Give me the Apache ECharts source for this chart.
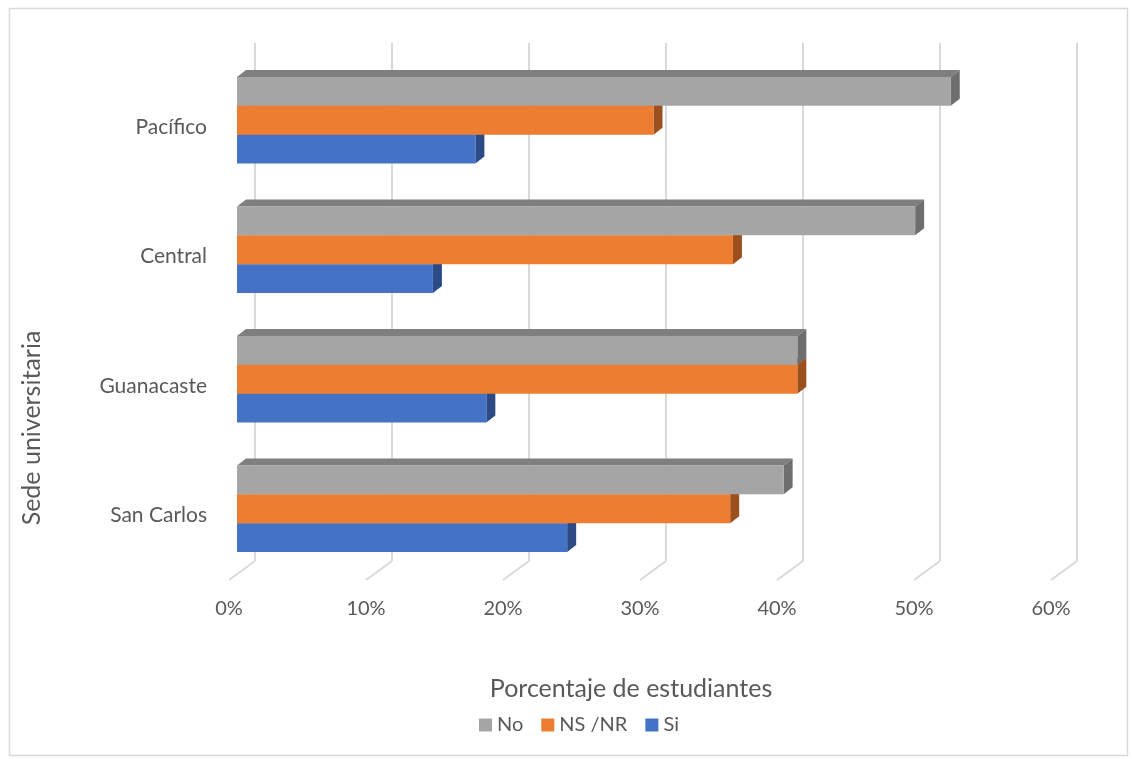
<!DOCTYPE html>
<html>
<head>
<meta charset="utf-8">
<script src="https://cdn.jsdelivr.net/npm/echarts@6/dist/echarts.min.js"></script>
<style>html,body{margin:0;padding:0;background:#fff}#main{width:1132px;height:759px}</style>
</head>
<body>
<div id="main"></div>
<script>
var categories = ['San Carlos', 'Guanacaste', 'Central', 'Pacífico'];
var seriesNames = ['No', 'NS /NR', 'Si'];
var noValues = [39.9, 40.9, 49.5, 52.1];
var nsnrValues = [36.0, 40.9, 36.2, 30.4];
var siValues = [24.1, 18.2, 14.3, 17.4];
var xTicks = [0, 10, 20, 30, 40, 50, 60];

var FONT = 'Lato, "Open Sans", sans-serif';
var TXT = '#595959';

function toData(vals) {
  return vals.map(function (v, i) { return [v, i]; });
}

function barRender(slot, front, top, side) {
  return function (params, api) {
    var v = api.value(0), c = api.value(1);
    var p0 = api.coord([0, c]);
    var p1 = api.coord([v, c]);
    var band = api.size([0, 1])[1];
    var h = band * 0.2225;
    var cy = p0[1] - 6.5;
    var y0 = cy - 1.5 * h + slot * h;
    var x0 = p0[0] + 8, x1 = p1[0] + 8;
    var dx = 9, dy = 7;
    return {
      type: 'group',
      children: [
        { type: 'polygon', shape: { points: [[x0, y0], [x0 + dx, y0 - dy], [x1 + dx, y0 - dy], [x1, y0]] }, style: { fill: top } },
        { type: 'polygon', shape: { points: [[x1, y0], [x1 + dx, y0 - dy], [x1 + dx, y0 + h - dy], [x1, y0 + h]] }, style: { fill: side } },
        { type: 'rect', shape: { x: x0, y: y0, width: x1 - x0, height: h }, style: { fill: front } }
      ]
    };
  };
}

function gridRender(params, api) {
  var x = api.coord([api.value(0), 0])[0];
  var cs = params.coordSys;
  var bottom = cs.y + cs.height;
  var st = { stroke: '#D9D9D9', lineWidth: 2 };
  return {
    type: 'group',
    children: [
      { type: 'line', shape: { x1: x + 26, y1: cs.y - 19, x2: x + 26, y2: bottom - 19 }, style: st },
      { type: 'line', shape: { x1: x + 26, y1: bottom - 19, x2: x, y2: bottom }, style: st }
    ]
  };
}

var chart = echarts.init(document.getElementById('main'));
chart.setOption({
  animation: false,
  backgroundColor: '#fff',
  textStyle: { fontFamily: FONT },
  grid: { left: 229, top: 62, width: 822, height: 518, containLabel: false },
  xAxis: {
    type: 'value', min: 0, max: 60, interval: 10,
    axisLine: { show: false }, axisTick: { show: false }, splitLine: { show: false },
    axisLabel: { formatter: '{value}%', color: TXT, fontSize: 20, margin: 19, fontFamily: FONT }
  },
  yAxis: {
    type: 'category', data: categories,
    axisLine: { show: false }, axisTick: { show: false }, splitLine: { show: false },
    axisLabel: { color: TXT, fontSize: 21, margin: 22, fontFamily: FONT }
  },
  legend: {
    data: seriesNames, left: 474, top: 710, icon: 'rect', itemWidth: 13, itemHeight: 13, itemGap: 18,
    textStyle: { color: TXT, fontSize: 20, fontFamily: FONT }
  },
  graphic: [
    { type: 'rect', left: 7, top: 6, shape: { width: 1118, height: 747 }, style: { fill: 'none', stroke: '#D9D9D9', lineWidth: 1.5 }, silent: true },
    { type: 'text', x: 631, y: 689, style: { text: 'Porcentaje de estudiantes', fill: TXT, font: '25px ' + FONT, textAlign: 'center', textVerticalAlign: 'middle' } },
    { type: 'text', x: 32, y: 428, rotation: Math.PI / 2, style: { text: 'Sede universitaria', fill: TXT, font: '25px ' + FONT, textAlign: 'center', textVerticalAlign: 'middle' } }
  ],
  series: [
    { type: 'custom', name: 'grid', data: xTicks.map(function (v) { return [v, 0]; }), renderItem: gridRender, silent: true, z: 1 },
    { type: 'custom', name: 'Si', data: toData(siValues), itemStyle: { color: '#4472C4' }, renderItem: barRender(2, '#4472C4', '#2F5597', '#2B4A86'), z: 2 },
    { type: 'custom', name: 'NS /NR', data: toData(nsnrValues), itemStyle: { color: '#ED7D31' }, renderItem: barRender(1, '#ED7D31', '#B85F22', '#9C501E'), z: 3 },
    { type: 'custom', name: 'No', data: toData(noValues), itemStyle: { color: '#A5A5A5' }, renderItem: barRender(0, '#A5A5A5', '#7F7F7F', '#6E6E6E'), z: 4 }
  ]
});
</script>
</body>
</html>
